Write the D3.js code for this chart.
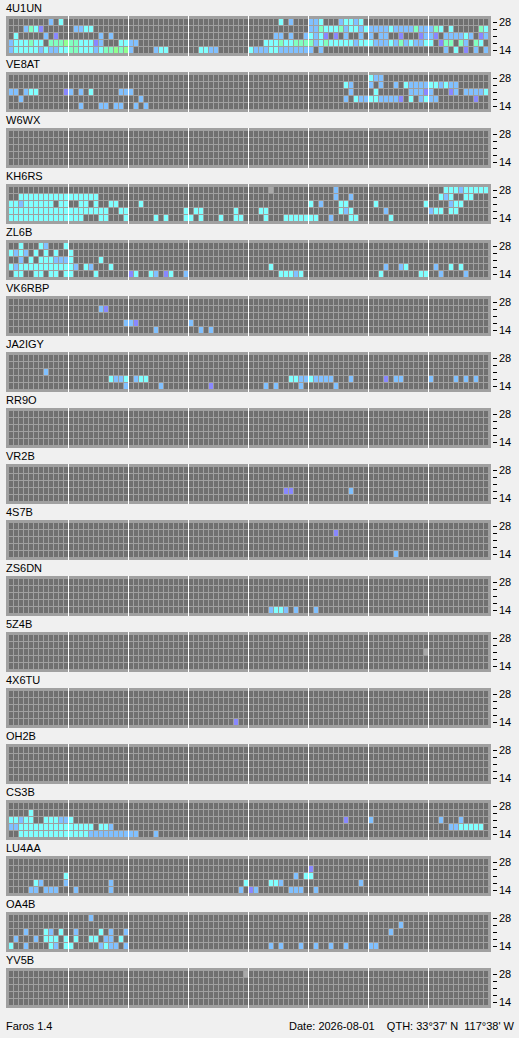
<!DOCTYPE html>
<html><head><meta charset="utf-8">
<script src="https://cdn.jsdelivr.net/npm/d3@7"></script>
<style>
html,body{margin:0;padding:0;background:#f0f0f0;}
svg{display:block;}
text{font-family:"Liberation Sans",Arial,sans-serif;font-size:11px;fill:#000;}
</style></head><body>
<svg id="chart" width="519" height="1038"></svg>
<script>
// ---- data ----
const beacons = ["4U1UN","VE8AT","W6WX","KH6RS","ZL6B","VK6RBP","JA2IGY","RR9O","VR2B","4S7B","ZS6DN","5Z4B","4X6TU","OH2B","CS3B","LU4AA","OA4B","YV5B"];
const bands = ["28","24","21","18","14"];          // rows, top to bottom (MHz)
const bandLabels = ["28","14"];                     // labelled ticks
const slotCount = 96;                               // 15-minute slots over 24 h
const footerLeft = "Faros 1.4";
const footerRight = "Date: 2026-08-01    QTH: 33°37' N  117°38' W";
// codes: c cyan, b light blue, g mint, G green, p violet, w grey (no decode), "." not heard
// each row: tokens "startSlot:codes"
const d_4U1UN = [
  "8:b.c 54:c.b 60:bbc 66:bccbc",
  "3:bgcp 13:bbcc 60:bbgcccgbccbc 72:bbbbcbbbbgbb 84:bgc.c 94:gc",
  "1:c 7:b.p 18:b.b 53:bb.b 59:bcbcp.p.b 70:b 72:b.bb..p...pbbp.bbbbcb.pb",
  "0:bcccgcc.gggGggcccpb 22:ccbb 51:cccgccggggbcgcccccbcc 72:cbbbcbgbcbbcc.pgg.gb.gc.",
  "0:bcccccbcbbccggcccbcggGgGb 29:bcc 38:ccbb 48:cbbbccbbbbbbb.b 87:b.c.p.b.b"
];
const d_VE8AT = [
  "72:cbb",
  "67:cb 72:b.b..b.cbbbbccbcbb",
  "0:bb.bcc 11:pb.b.c 22:bbb 68:b 73:c 80:bbbpb...pb.bbbbc",
  "2:b 26:b 67:b.cbbccbbbbp.c.bcbb 93:p",
  "14:b 18:bb.bb 25:b.b"
];
const d_W6WX = ["","","","",""];
const d_KH6RS = [
  "52:w 65:b 87:cccbccccc",
  "2:cccccccccccccccc 65:b 68:b 86:cbc 91:cc",
  "0:ccbcccccc.cc 14:cc.c 20:cc 26:c 60:c.b 66:cc 73:c 83:c 88:bcc",
  "0:cccccccccccccccccccc 22:cc 35:c.cc 45:c 50:cc 66:cbc 75:b 84:bcc.cc",
  "0:ccccccccccccccc 18:cc 23:c 29:c.c 35:cc.c 42:c 45:cc 51:c 55:ccccccc 64:b 68:cc 76:c"
];
const d_ZL6B = [
  "2:c 6:cb 11:c",
  "0:cbcb 5:c.c 9:c 12:c",
  "2:b 4:c.ccc 9:bbb 12:c 18:c",
  "0:cbcccccccccccb 15:cb 20:c 52:c 75:b 78:bc 85:b 88:c.c",
  "1:cc 5:cc 8:cc 11:cc 17:c 24:pc 28:cb.pc 35:b 54:cccbc 74:c 82:cc 86:b 91:b"
];
const d_VK6RBP = [
  "",
  "18:bp",
  "",
  "23:bbp 36:b",
  "29:b 38:b.b"
];
const d_JA2IGY = [
  "",
  "",
  "7:b",
  "20:cbbc.bcc 56:ccbbcbbbb 68:b 75:p 77:bb 84:b 89:b 91:b.b",
  "23:b 30:b 40:p 51:b.b 58:b 65:b"
];
const d_RR9O = ["","","","",""];
const d_VR2B = ["","","","55:pp 68:b",""];
const d_4S7B = ["","65:p","","","77:b"];
const d_ZS6DN = ["","","","","52:bccb.b 61:b"];
const d_5Z4B = ["","","83:w","",""];
const d_4X6TU = ["","","","","45:p"];
const d_OH2B = ["","","","",""];
const d_CS3B = [
  "",
  "4:c",
  "0:ccbcc 7:cccbbc 67:p 72:b 86:b 90:b",
  "0:bbccccccccccccccc 18:cc 20:b 88:bbc 91:cccc",
  "2:ccccccccccccccbbbbbbbbbb 29:b"
];
const d_LU4AA = [
  "",
  "60:p",
  "11:c 57:b 59:cc",
  "5:cb 11:b 20:b 47:c 52:ccb 70:b",
  "4:bb.bbb 13:b 20:b 46:b.pb 56:b 57:bb 61:b"
];
const d_OA4B = [
  "16:b",
  "78:b",
  "3:b 7:cb.c 13:b 18:c 20:b 23:b 76:b",
  "1:b 5:b.ccc 11:c.c 16:cc.bb 22:c",
  "0:c 3:b 8:cb.c 12:c 18:bcbb.b 52:b.b 58:b 61:b 64:b 67:b 72:bb"
];
const d_YV5B = ["47:w","","","",""];

const beaconData = {"4U1UN":d_4U1UN,"VE8AT":d_VE8AT,"W6WX":d_W6WX,"KH6RS":d_KH6RS,"ZL6B":d_ZL6B,"VK6RBP":d_VK6RBP,"JA2IGY":d_JA2IGY,"RR9O":d_RR9O,"VR2B":d_VR2B,"4S7B":d_4S7B,"ZS6DN":d_ZS6DN,"5Z4B":d_5Z4B,"4X6TU":d_4X6TU,"OH2B":d_OH2B,"CS3B":d_CS3B,"LU4AA":d_LU4AA,"OA4B":d_OA4B,"YV5B":d_YV5B};

const colorOf = {c:"#80ffff", b:"#80c0ff", g:"#80ffc0", G:"#90ff90", p:"#8888ff", w:"#a8a8a8"};

function parseRows(rows){
  const out = [];
  rows.forEach((s,ri)=>{
    s.split(/\s+/).filter(t=>t.length).forEach(tok=>{
      const [st,codes] = tok.split(":");
      const start = +st;
      [...codes].forEach((ch,k)=>{ if(ch!=="." && start+k<slotCount) out.push({slot:start+k, band:bands[ri], code:ch}); });
    });
  });
  return out;
}

// ---- layout ----
const svg = d3.select("#chart");
const panelY = d3.scaleBand().domain(beacons).range([16, 16+56*beacons.length]);
const panelH = 40, panelL = 6, panelW = 485;
const x = d3.scaleLinear().domain([0, slotCount]).range([9, 9+5*slotCount]);
const y = d3.scaleBand().domain(bands).range([3, 38]);
const cellW = x(1)-x(0)-1, cellH = y.step()-1;
const grid = d3.cross(d3.range(slotCount), bands);
const dividers = d3.range(12, slotCount, 12);

const axis = d3.axisRight(y).tickSize(4).tickPadding(2)
  .tickFormat(d => bandLabels.includes(d) ? d : "");

beacons.forEach(name=>{
  const g = svg.append("g").attr("transform",`translate(0,${panelY(name)})`);
  g.append("text").attr("x",6).attr("y",-4).text(name);
  g.append("rect").attr("x",panelL).attr("y",0).attr("width",panelW).attr("height",panelH).attr("fill","#a0a0a0");
  g.append("g").selectAll("rect").data(grid).join("rect")
    .attr("x",d=>x(d[0])).attr("y",d=>y(d[1])).attr("width",cellW).attr("height",cellH)
    .attr("fill","#707070");
  g.append("g").selectAll("rect").data(parseRows(beaconData[name])).join("rect")
    .attr("x",d=>x(d.slot)).attr("y",d=>y(d.band)).attr("width",cellW).attr("height",cellH)
    .attr("fill",d=>colorOf[d.code]);
  g.append("g").selectAll("rect").data(dividers).join("rect")
    .attr("x",d=>x(d)-1).attr("y",0).attr("width",1).attr("height",panelH).attr("fill","#ffffff");
  const ax = g.append("g").attr("transform","translate(493,0)").call(axis);
  ax.select(".domain").remove();
  ax.selectAll(".tick line").attr("stroke","#000").attr("shape-rendering","crispEdges");
  ax.selectAll(".tick text").attr("font-family",'"Liberation Sans",Arial,sans-serif').attr("font-size",11).attr("fill","#000");
});

svg.append("text").attr("x",6).attr("y",1030).text(footerLeft);
svg.append("text").attr("x",514).attr("y",1030).attr("text-anchor","end").attr("xml:space","preserve").style("white-space","pre").text(footerRight);
</script>
</body></html>
